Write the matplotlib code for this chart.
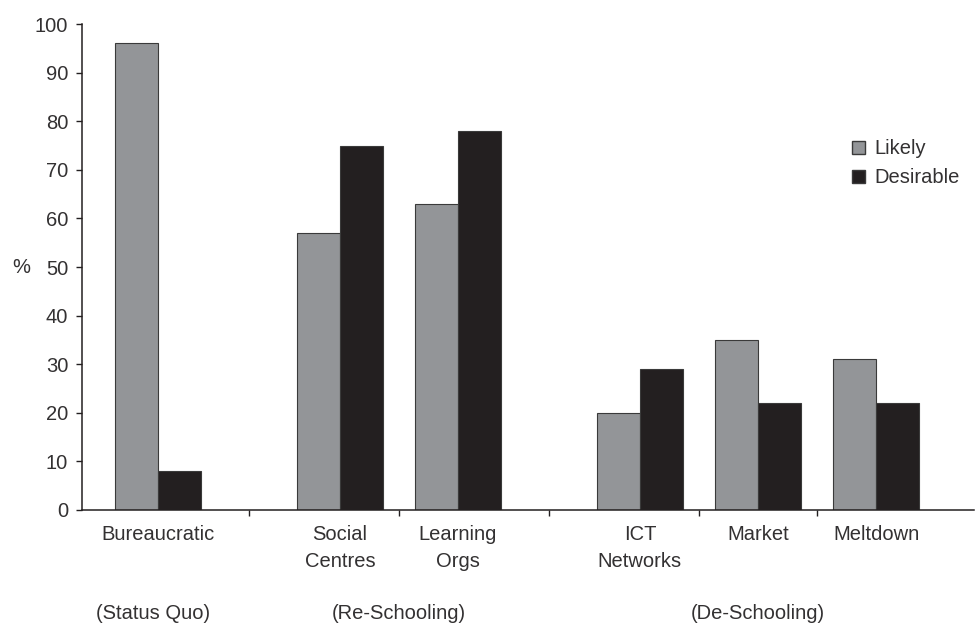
import numpy as np
import matplotlib
matplotlib.use('Agg')
import matplotlib.pyplot as plt
from matplotlib.patches import Patch
import matplotlib.transforms as mtransforms

# data
categories = ['Bureaucratic', 'Social\nCentres', 'Learning\nOrgs', 'ICT\nNetworks', 'Market', 'Meltdown']
group_of = [0, 1, 1, 2, 2, 2]
groups = ['(Status Quo)', '(Re-Schooling)', '(De-Schooling)']
likely = [96, 57, 63, 20, 35, 31]
desirable = [8, 75, 78, 29, 22, 22]

ink = '#231f20'
grey = '#939598'
plt.rcParams['font.family'] = ['Liberation Sans', 'DejaVu Sans']
plt.rcParams['font.size'] = 14.5

# category positions: extra gap between the groups
gap = 0.54
x = np.arange(len(categories)) + gap * np.array(group_of)
w = 0.365

fig = plt.figure(figsize=(9.75, 6.24), dpi=100)
ax = fig.add_axes([0.0841, 0.1827, 0.915, 0.7788])

ax.bar(x - w/2, likely, w, color=grey, edgecolor='#3a3a3a', linewidth=0.8, label='Likely')
ax.bar(x + w/2, desirable, w, color=ink, edgecolor='#3a3a3a', linewidth=0.8, label='Desirable')

ax.set_ylim(0, 100)
ax.set_xlim(x[0] - 0.644, x[-1] + 0.83)
ax.set_yticks(np.arange(0, 101, 10))
ax.tick_params(axis='y', direction='out', length=4, width=1, colors=ink, labelcolor='#333132', pad=6)

# ticks between categories, labels at category centres
mids = (x[:-1] + x[1:]) / 2
ax.set_xticks(mids)
ax.set_xticklabels([])
ax.tick_params(axis='x', which='major', direction='out', length=4, width=1, color=ink)
ax.set_xticks(x, minor=True)
ax.set_xticklabels(categories, minor=True, linespacing=1.5, color='#333132')
ax.tick_params(axis='x', which='minor', length=0, pad=11)

for s in ['top', 'right']:
    ax.spines[s].set_visible(False)
for s in ['left', 'bottom']:
    ax.spines[s].set_color(ink)
    ax.spines[s].set_linewidth(1.1)

ax.set_ylabel('%', rotation=0, color='#333132', va='center', ha='center')
ax.yaxis.set_label_coords(-0.068, 0.5)

trans = mtransforms.blended_transform_factory(ax.transData, ax.transAxes)
gx = [x[0] - 0.04, (x[1] + x[2]) / 2, x[4]]
for g, xx in zip(groups, gx):
    ax.text(xx, -0.214, g, transform=trans, ha='center', va='center', color='#333132')

handles = [Patch(facecolor=grey, edgecolor='#3a3a3a', label='Likely'),
           Patch(facecolor=ink, edgecolor='#3a3a3a', label='Desirable')]
ax.legend(handles=handles, loc='upper left', bbox_to_anchor=(0.843, 0.80), frameon=False,
          handlelength=0.65, handleheight=0.65, handletextpad=0.45, labelspacing=0.5,
          labelcolor='#333132')

fig.savefig('out.png', dpi=100)
